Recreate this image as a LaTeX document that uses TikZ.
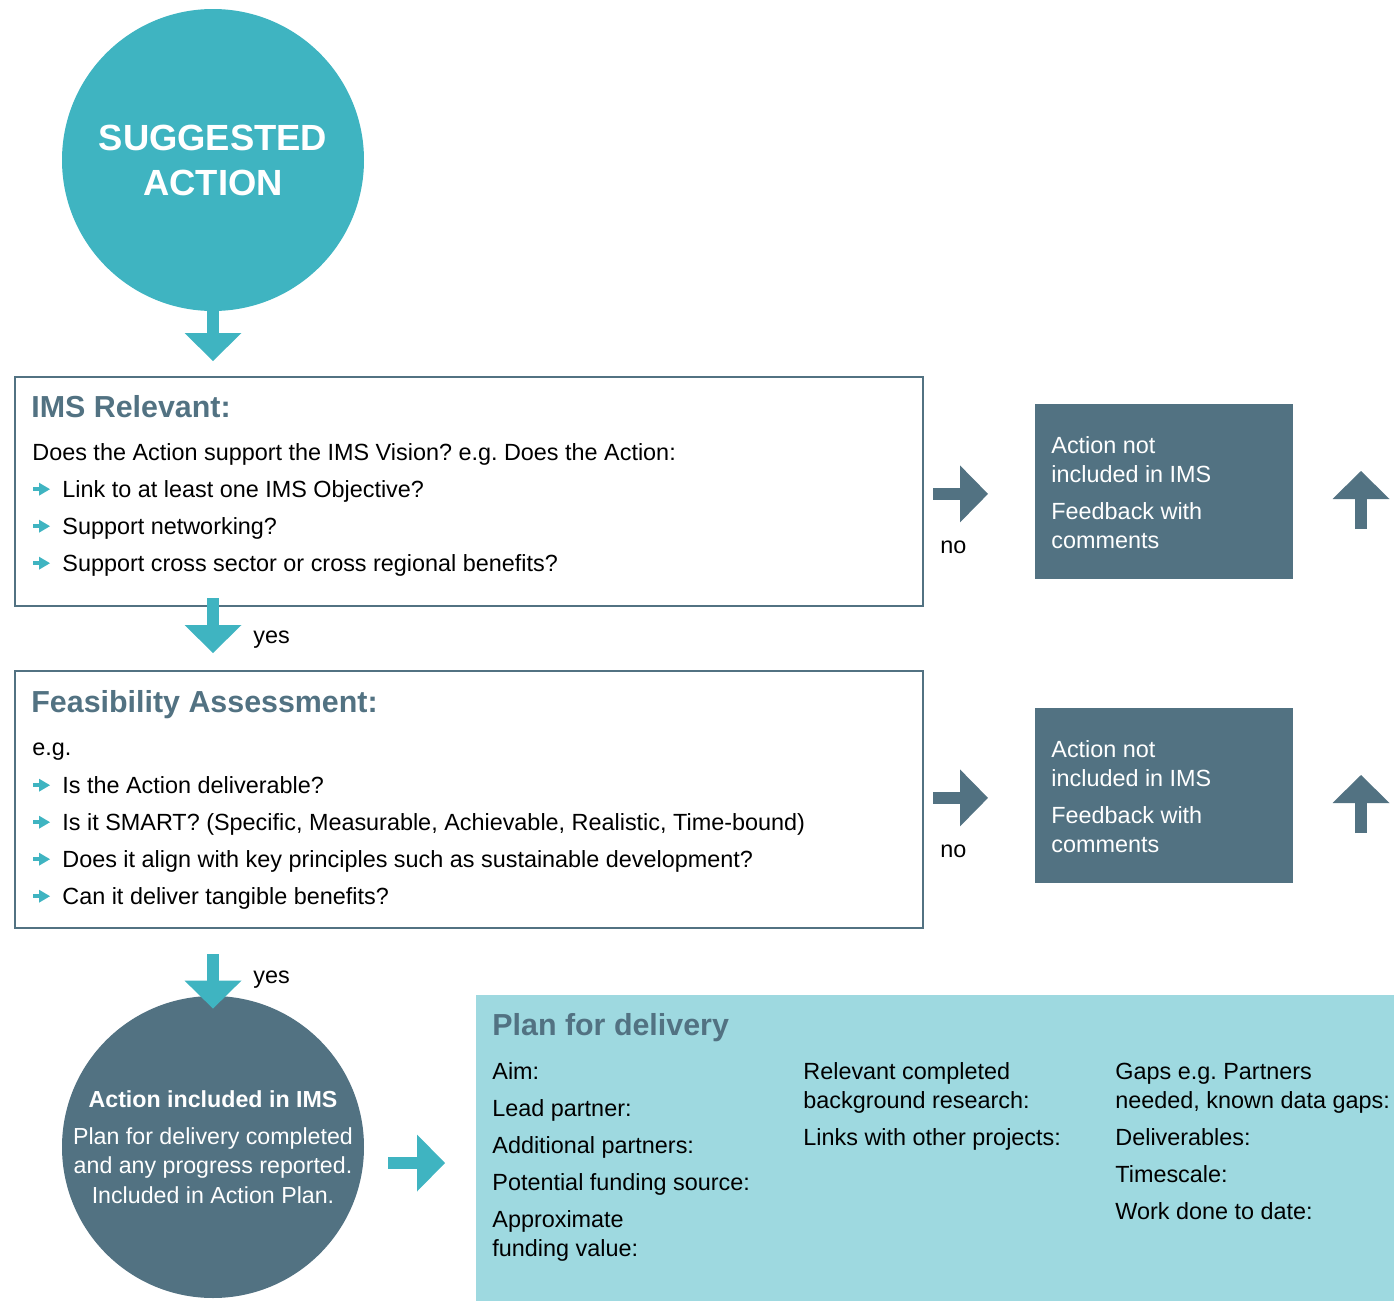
\documentclass[tikz,border=0pt]{standalone}
\usepackage{fontspec}
\setmainfont{Liberation Sans}
\frenchspacing
\usetikzlibrary{arrows.meta,positioning}
\definecolor{imsteal}{HTML}{3FB4C1}
\definecolor{imsslate}{HTML}{527282}
\definecolor{imslight}{HTML}{9ED9E0}

\begin{document}
\begin{tikzpicture}
  [x=0.5pt,y=-0.5pt,every node/.style={inner sep=0pt},
   bigcirc/.style={circle,minimum size=151pt,text=white,align=center},
   qbox/.style={draw=imsslate,line width=1.2pt,anchor=north west},
   nobox/.style={fill=imsslate,minimum width=129pt,minimum height=87.5pt,anchor=north west},
   head/.style={anchor=base west,font=\fontsize{15.2}{18}\selectfont\bfseries,text=imsslate},
   txt/.style={anchor=base west,font=\fontsize{11.7}{14}\selectfont},
   wtxt/.style={txt,text=white},
   bul/.style={imsteal,line width=1.8pt,-{Triangle[width=6.5pt,length=5.5pt,line width=0pt]}},
   blk/.style={line width=6pt,-{Triangle[width=28.5pt,length=14pt,line width=0pt]}}]

    \useasboundingbox (0,0) rectangle (1394,1301);

    % main column
    \node (sugg) [bigcirc,fill=imsteal,font=\fontsize{18.2}{22.5}\selectfont\bfseries] at (213,160) {SUGGESTED\\ACTION};
    \node (rel)  [qbox,minimum width=454pt,minimum height=114.5pt] at (14,376) {};
    \node (feas) [qbox,minimum width=454pt,minimum height=128.5pt] at (14,670) {};
    \node (incl) [bigcirc,fill=imsslate,font=\fontsize{11.6}{14.75}\selectfont] at (213,1147)
      {\textbf{Action included in IMS}\\[3.75pt]Plan for delivery completed\\and any progress reported.\\Included in Action Plan.};
    \node (plan) [fill=imslight,minimum width=459pt,minimum height=153pt,anchor=north west] at (476,995) {};

    % feedback boxes
    \node (no1) [nobox] at (1035,404) {};
    \node (no2) [nobox] at (1035,708) {};

    % IMS relevant
    \node (relh) [head] at (31,417) {IMS Relevant:};
    \node (rel0) [txt]  at (32,460) {Does the Action support the IMS Vision? e.g. Does the Action:};
    \foreach \y/\itm [count=\i] in {497/Link to at least one IMS Objective?,
        534/Support networking?,571/Support cross sector or cross regional benefits?}{
      \node (rel\i) [txt] at (62,\y) {\itm};
      \draw[bul] ([xshift=-14.5pt,yshift=3.9pt]rel\i.base west) -- ++(17,0);
    }

    % feasibility
    \node (feash) [head] at (31,712) {Feasibility Assessment:};
    \node (feas0) [txt]  at (32,755) {e.g.};
    \foreach \y/\itm [count=\i] in {793/Is the Action deliverable?,
        830/{Is it SMART? (Specific, Measurable, Achievable, Realistic, Time-bound)},
        867/Does it align with key principles such as sustainable development?,
        904/Can it deliver tangible benefits?}{
      \node (feas\i) [txt] at (62,\y) {\itm};
      \draw[bul] ([xshift=-14.5pt,yshift=3.9pt]feas\i.base west) -- ++(17,0);
    }

    % feedback texts
    \foreach \y/\itm [count=\i] in {453/Action not,482/included in IMS,519/Feedback with,548/comments}{
      \node (fa\i) [wtxt] at (1051,\y) {\itm};
      \node (fb\i) [wtxt] at (1051,\y+304) {\itm};
    }

    \node (yes1) [txt] at (253,643) {yes};
    \node (yes2) [txt] at (253,983) {yes};
    \node (nol1) [txt] at (940,553) {no};
    \node (nol2) [txt] at (940,857) {no};

    % plan for delivery
    \node (planh) [head] at (492,1035) {Plan for delivery};
    \foreach \y/\itm [count=\i] in {1079/Aim:,1116/Lead partner:,1153/Additional partners:,
        1190/Potential funding source:,1227/Approximate,1256/funding value:}
      \node (pa\i) [txt] at (492,\y) {\itm};
    \foreach \y/\itm [count=\i] in {1079/Relevant completed,1108/background research:,
        1145/Links with other projects:}
      \node (pb\i) [txt] at (803,\y) {\itm};
    \foreach \y/\itm [count=\i] in {1079/Gaps e.g. Partners,1108/{needed, known data gaps:},
        1145/Deliverables:,1182/Timescale:,1219/Work done to date:}
      \node (pc\i) [txt] at (1115,\y) {\itm};

    % arrows
    \draw[blk,imsteal] (sugg.south) -- ([yshift=7.5pt]sugg.south |- rel.north);
    \draw[blk,imsteal] ([yshift=4.5pt]sugg.south |- rel.south) -- ([yshift=8.5pt]sugg.south |- feas.north);
    \draw[blk,imsteal] ([yshift=-12.5pt]sugg.south |- feas.south) -- ([yshift=-6.5pt]incl.north);
    \draw[blk,imsteal] ([xshift=12pt,yshift=-8pt]incl.east) -- ([xshift=-15.5pt,yshift=-8pt]incl.east -| plan.west);
    \draw[blk,imsslate] ([xshift=4.5pt,yshift=-1pt]rel.east |- no1.west) -- ([xshift=-23.5pt,yshift=-1pt]no1.west);
    \draw[blk,imsslate] ([xshift=4.5pt,yshift=-1pt]feas.east |- no2.west) -- ([xshift=-23.5pt,yshift=-1pt]no2.west);

    \coordinate (up1a) at (1361,529);
    \coordinate (up1b) at (1361,471);
    \coordinate (up2a) at (1361,833);
    \coordinate (up2b) at (1361,775);
    \draw[blk,imsslate] (up1a) -- (up1b);
    \draw[blk,imsslate] (up2a) -- (up2b);
\end{tikzpicture}
\end{document}
